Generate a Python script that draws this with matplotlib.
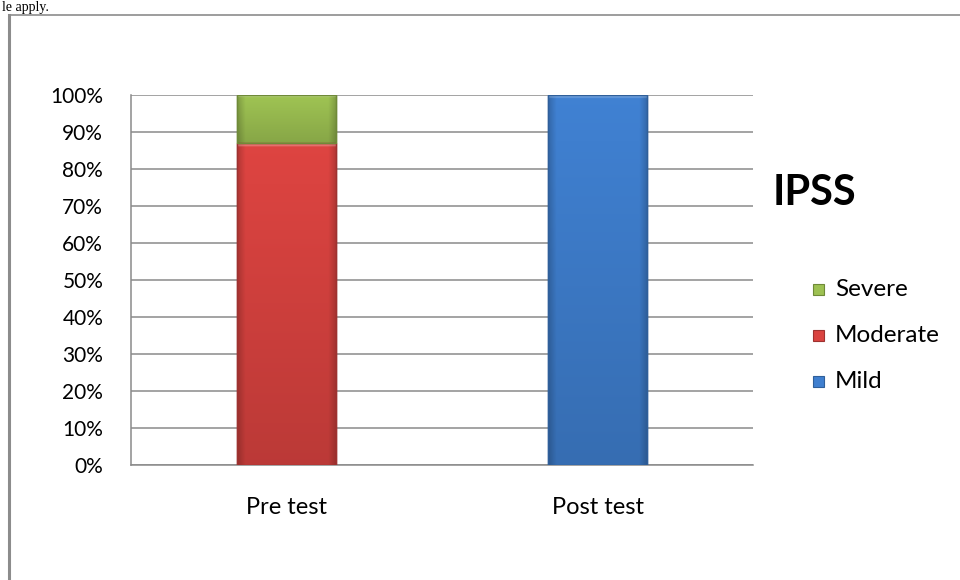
import matplotlib
matplotlib.use("Agg")
import matplotlib.pyplot as plt
import numpy as np
from matplotlib.patches import Rectangle
from matplotlib.lines import Line2D
from matplotlib.colors import to_rgb

categories = ["Pre test", "Post test"]
mild = [0, 100]
moderate = [87, 0]
severe = [13, 0]
series_names = ["Severe", "Moderate", "Mild"]
yticks = [0, 10, 20, 30, 40, 50, 60, 70, 80, 90, 100]

colors = {"Mild": "#3F7FCF", "Moderate": "#DA4340", "Severe": "#9DC152"}
edges = {"Mild": "#2F5F9A", "Moderate": "#9E3230", "Severe": "#6F8A38"}

plt.rcParams['font.family'] = ['Lato', 'DejaVu Sans']
fig = plt.figure(figsize=(9.6, 5.8), dpi=100)

# outer border (document frame)
fig.add_artist(Line2D([9/960, 9/960], [0, 1 - 15/580], color="#8c8c8c", lw=2.2))
fig.add_artist(Line2D([9/960, 1], [1 - 15/580, 1 - 15/580], color="#8c8c8c", lw=1.2))
fig.text(2/960, 1 - 1/580, "le apply.", family="Liberation Serif", fontsize=10,
         va="top", ha="left")

ax = fig.add_axes([131/960, 1 - 465/580, 622/960, 370/580])
x = [0, 1]
w = 0.32
bottom = [0, 0]


def shade(patch, base):
    x0, y0 = patch.get_x(), patch.get_y()
    pw, ph = patch.get_width(), patch.get_height()
    if ph <= 0:
        return
    ny, nx = 200, 40
    c = np.array(to_rgb(base))
    v = np.linspace(1.02, 0.86, ny)[:, None]
    u = np.linspace(-1, 1, nx)[None, :]
    hfac = 1 - 0.18 * np.clip((np.abs(u) - 0.85) / 0.15, 0, 1)
    fac = v * hfac
    img = np.clip(c[None, None, :] * fac[:, :, None], 0, 1)
    # thin top highlight strip (about 3 px)
    top_rows = max(1, int(round(ny * 0.8 / ph)))
    img[:top_rows] = np.clip(img[:top_rows] * 0.75 + 0.25, 0, 1)
    im = ax.imshow(img, extent=(x0, x0 + pw, y0, y0 + ph), aspect="auto",
                   origin="upper", zorder=3.5, interpolation="bilinear")
    im.set_clip_path(patch)


for name, vals in [("Mild", mild), ("Moderate", moderate), ("Severe", severe)]:
    bars = ax.bar(x, vals, width=w, bottom=bottom, color=colors[name],
                  edgecolor=edges[name], linewidth=1.0, zorder=3, label=name)
    for p in bars:
        if p.get_height() <= 0:
            continue
        shade(p, colors[name])
        ax.add_patch(Rectangle((p.get_x(), p.get_y()), p.get_width(), p.get_height(),
                               fill=False, edgecolor=edges[name], lw=1.0, zorder=4))
    bottom = [b + v for b, v in zip(bottom, vals)]

ax.set_xlim(-0.5, 1.5)
ax.set_ylim(0, 100)
ax.set_yticks(yticks)
ax.set_yticklabels([f"{t}%" for t in yticks], fontsize=15)
ax.set_xticks(x)
ax.set_xticklabels(categories, fontsize=17)
ax.tick_params(axis="x", length=0, pad=23)
ax.tick_params(axis="y", length=0, pad=20)
ax.grid(axis="y", color="#8a8a8a", lw=1.1, zorder=0)
for s in ["top", "right"]:
    ax.spines[s].set_visible(False)
for s in ["left", "bottom"]:
    ax.spines[s].set_color("#8a8a8a")
    ax.spines[s].set_linewidth(1.1)

fig.text(773/960, 1 - 193/580, "IPSS", fontsize=30, fontweight="bold", va="center", ha="left")

ypos = [289, 335, 381]
for name, yp in zip(series_names, ypos):
    fig.add_artist(Rectangle((813/960, 1 - (yp + 6)/580), 11/960, 11/580,
                             facecolor=colors[name], edgecolor=edges[name], lw=0.8))
    fig.text(835/960, 1 - yp/580, name, fontsize=17.5, va="center", ha="left")

fig.savefig("out.png", dpi=100)
